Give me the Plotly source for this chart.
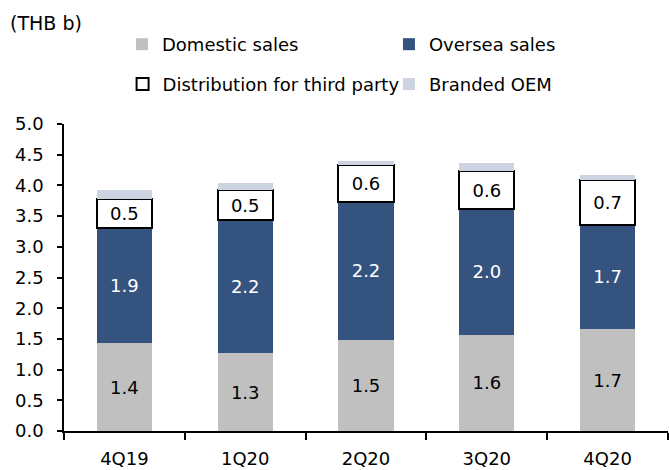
import plotly.graph_objects as go

categories = ["4Q19", "1Q20", "2Q20", "3Q20", "4Q20"]
domestic = [1.43, 1.27, 1.49, 1.57, 1.66]
oversea = [1.88, 2.16, 2.24, 2.04, 1.70]
distribution = [0.47, 0.49, 0.60, 0.62, 0.73]
branded_oem = [0.14, 0.12, 0.07, 0.13, 0.08]

FONT = "DejaVu Sans, Liberation Sans, Arial, sans-serif"
LBL = 18

fig = go.Figure()
fig.add_trace(go.Bar(
    x=categories, y=domestic, name="Domestic sales", legend="legend",
    marker=dict(color="#C0C0C0", line=dict(width=0)),
    text=[f"{v:.1f}" for v in domestic], textposition="inside",
    insidetextanchor="middle", textangle=0,
    textfont=dict(color="black", size=LBL, family=FONT),
))
fig.add_trace(go.Bar(
    x=categories, y=oversea, name="Oversea sales", legend="legend2",
    marker=dict(color="#34537F", line=dict(width=0)),
    text=[f"{v:.1f}" for v in oversea], textposition="inside",
    insidetextanchor="middle", textangle=0,
    textfont=dict(color="white", size=LBL, family=FONT),
))
fig.add_trace(go.Bar(
    x=categories, y=distribution, name="Distribution for third party",
    legend="legend3",
    marker=dict(color="white", line=dict(width=2, color="black")),
    text=[f"{v:.1f}" for v in distribution], textposition="inside",
    insidetextanchor="middle", textangle=0,
    textfont=dict(color="black", size=LBL, family=FONT),
))
fig.add_trace(go.Bar(
    x=categories, y=branded_oem, name="Branded OEM", legend="legend4",
    marker=dict(color="#CDD3E0", line=dict(width=0)),
))

legend_common = dict(
    orientation="h", xanchor="left", yanchor="middle",
    itemwidth=30,
    font=dict(size=18, family=FONT, color="black"),
    bgcolor="rgba(0,0,0,0)",
)

fig.update_layout(
    barmode="stack",
    bargap=0.542,
    width=669, height=470,
    margin=dict(l=64, r=1, t=124, b=39),
    paper_bgcolor="white", plot_bgcolor="white",
    font=dict(family=FONT, size=18, color="black"),
    uniformtext=dict(mode=False),
    showlegend=True,
    legend=dict(x=0.096, y=1.259, **legend_common),
    legend2=dict(x=0.538, y=1.259, **legend_common),
    legend3=dict(x=0.097, y=1.129, **legend_common),
    legend4=dict(x=0.538, y=1.129, **legend_common),
    annotations=[dict(
        text="(THB b)", xref="paper", yref="paper", x=-0.092, y=1.329,
        xanchor="left", yanchor="middle", showarrow=False,
        font=dict(size=19, family=FONT),
    )],
)
fig.update_xaxes(
    type="category", showline=True, linecolor="black", linewidth=1.5,
    ticks="outside", tickson="boundaries", ticklen=7, tickcolor="black",
    tickwidth=1.5, showgrid=False, tickfont=dict(size=18),
    ticklabelstandoff=11, automargin=False,
)
fig.update_yaxes(
    range=[0, 5.0], dtick=0.5, tickformat=".1f", showline=True,
    linecolor="black", linewidth=1.5, ticks="outside", ticklen=5,
    tickcolor="black", tickwidth=1.5, showgrid=False, zeroline=False,
    tickfont=dict(size=18), ticklabelstandoff=10, automargin=False,
)

fig.write_html(
    "out.html",
    config={"displayModeBar": False},
    post_script="document.body.style.margin='0';document.body.style.overflow='hidden';",
)
